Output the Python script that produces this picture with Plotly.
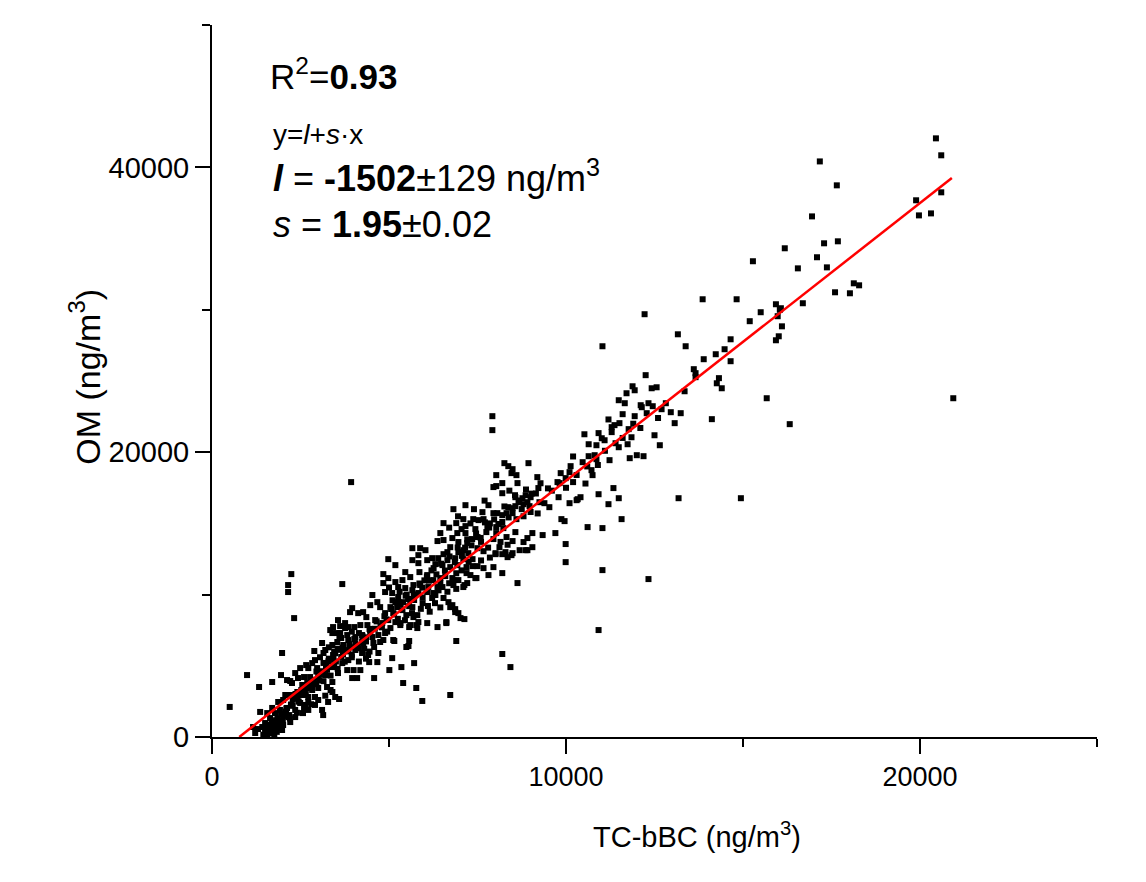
import plotly.graph_objects as go

# ---- data (TC-bBC vs OM, ng/m3) ----
tc_bbc_high = [
    20450, 20600, 17170, 17650, 19890, 20600, 19970, 20310, 16950, 16180,
    17290, 17680, 17090, 16550, 17370, 18130, 18280, 17600, 18020, 16690,
    16070, 16100, 20940, 16320, 15280, 13860, 14820, 15930, 16040, 15980,
    16010, 15930, 15500, 15190, 14650, 14480, 14230, 13890, 14650, 13160,
    13380, 13610, 12220, 11030, 13660, 13660, 14320, 14260, 14400, 15670,
    14120, 13350, 12250, 11880, 11940, 11710, 12420, 12560, 11490, 11660,
    12110, 12140, 12330, 12450, 12820, 12700, 12960, 13240, 13070, 12280,
    11940, 11600, 12500, 12650, 12190, 12000, 11800, 11740, 11850, 11770,
    11510, 11370, 11290, 10920, 11010, 11090, 10860, 10640, 10520, 10640,
    10810, 10860, 11230, 11400, 11490, 10470, 10130, 10720, 10750, 9990,
    9850, 11340, 10920, 10410, 11490, 13180, 14940, 11200, 11290,
    9600, 10000, 10200, 10550, 10300, 10600, 10900, 10100, 11100, 11600,
    11200, 11900, 12100, 12600, 10200,
]
om_high = [
    42040, 40850, 40420, 38740, 37690, 38250, 36630, 36770, 36560, 34320,
    34670, 34810, 33690, 32910, 32980, 31860, 31720, 31230, 31160, 30460,
    30110, 28840, 23790, 21970, 33410, 30740, 30740, 30390, 30000, 29550,
    28140, 27860, 29830, 29200, 27930, 27230, 26880, 26530, 26390, 28280,
    27440, 25830, 29690, 27440, 25550, 25270, 25200, 24840, 24490, 23790,
    22320, 24280, 25410, 24630, 24350, 24140, 24490, 24560, 23650, 23440,
    23300, 23160, 23440, 23230, 23440, 23020, 22810, 22740, 22040, 22740,
    22530, 22670, 21190, 20490, 19720, 19790, 19580, 20560, 21050, 21620,
    22040, 21900, 21410, 21340, 20980, 20840, 20490, 20560, 21260, 19720,
    19790, 19510, 19440, 20630, 20350, 19300, 19020, 18740, 18390, 18180,
    18530, 17480, 17050, 16840, 16770, 16770, 16770, 16350, 21760,
    17300, 17500, 17900, 17800, 18400, 19000, 19100, 18600, 20100, 21000,
    22300, 22000, 21700, 22400, 19700,
]

tc_bbc_mid = [
    8260, 8370, 8490, 8600, 8630, 8940, 9190, 9220, 8200, 8200,
    8570, 8860, 9000, 8800, 8970, 8370, 8570, 9250, 9390, 9530,
    9790, 9820, 10100, 10330, 9760, 7920, 7920, 12330, 11030, 10920,
    6730, 8200, 8430, 6900, 6620, 7130, 6960, 6870, 6790, 6540,
    8630, 8200, 7470, 7190, 7360, 6820, 7130, 6960, 6510, 9990,
    9990, 9700, 10610, 11030, 11570, 10300, 9870, 9960, 9340, 9050,
    8910, 9050, 8860, 8690, 8460, 8350, 8200, 8010, 7670, 8490,
    8030, 7950, 8030, 8460, 8770, 8910, 8660, 8490, 8320, 8200,
    8060, 7810, 7950, 7670, 7530, 7380, 7640, 7160, 6820, 7100,
    6900, 6540, 7160, 7440, 7500, 7750, 7780, 8030, 8030, 8230,
    8320, 8490, 8800, 8570, 8120, 8010, 8290, 8490, 8910, 6450,
    6370, 6540, 6790, 6930, 7160, 6960, 7210, 6730, 6650, 6960,
    7100, 7240, 7500, 7360, 7500, 7100, 6870, 6650, 6540, 6390,
    6220, 6080, 6310, 6510, 6730, 6930, 7190, 7210, 6790, 6590,
    6250, 6080, 5860, 5830, 5660, 5880, 6030, 5660, 5830, 5460,
    5600, 5380, 5180, 5260, 5460, 5690, 5880, 6110, 6310, 6220,
    4980, 5180, 4840, 4980, 4840, 4890, 5090, 5260, 5180, 5400,
    5600, 5660, 5380, 5490, 5690, 5770, 5800, 5600, 6680, 6870,
    7020, 6620, 6370, 4470, 4530, 4670, 4750, 5040, 4890, 5120,
    4980, 5180, 5320, 4810, 4610, 4360, 4270, 4130, 3960, 4390,
    4190, 4020, 3850, 3760, 3620, 3560, 3420, 3400, 3620, 3820,
    4050, 4240, 4470, 4700, 4890, 5120, 5550, 4560, 4270, 3710,
    3540, 3900, 3930,
    5250, 5450, 5650, 5900, 6100, 6300, 6450, 5950, 6150, 5700,
    5950, 6400, 6650, 6900, 6700, 6450, 6900, 7050, 5500, 5300,
    6000, 6200, 5100, 5000,
    7250, 7600, 7850, 7800, 8150, 8350, 7950, 7600, 7350, 7050,
    7300, 7850, 8200, 8600, 8800, 9000, 8750, 9200, 9150, 8400,
    7700, 7400, 6950, 6700, 7150,
    4650, 4760, 4870, 4930, 5060, 5140, 5270, 5330, 5470, 5540,
    5660, 5730, 5860, 5940, 6070, 6130, 6260, 6340, 6470, 6580,
    6710, 6860, 6940, 7060, 7210, 7330, 7460, 7590, 7710, 7830,
    7970, 8090, 8260, 8380, 8560, 8680, 8870, 9030, 9280, 9490,
]
om_mid = [
    19230, 19020, 18810, 18390, 17830, 19230, 18250, 17480, 17830, 17120,
    16840, 16980, 16840, 16350, 16210, 16140, 16210, 16490, 16420, 16140,
    16840, 17830, 16420, 16700, 17900, 22530, 21550, 11090, 11720, 7510,
    2950, 5830, 4910, 6740, 8070, 8280, 8700, 8980, 9260, 9760,
    10810, 11510, 11160, 11510, 12000, 10670, 10670, 11020, 10530, 12280,
    13550, 14320, 14740, 14670, 15300, 16630, 15300, 15160, 14180, 14320,
    13970, 13330, 13120, 13120, 12770, 12630, 12840, 12840, 13050, 16070,
    17620, 17550, 18390, 18530, 16770, 16490, 16490, 15720, 15720, 15580,
    15720, 16280, 15720, 15300, 15230, 15300, 15790, 16280, 16000, 15300,
    15020, 15020, 14810, 14600, 14040, 14390, 14740, 14740, 14320, 14670,
    14040, 13760, 13690, 14390, 13330, 12910, 12980, 12910, 13120, 14320,
    13760, 13830, 13970, 14320, 14320, 13690, 13620, 13330, 12980, 12980,
    13120, 12910, 13260, 12490, 12000, 12490, 12560, 12420, 12840, 12560,
    12560, 12420, 12140, 12070, 11930, 12070, 11930, 10810, 11160, 11300,
    11020, 11370, 11580, 12210, 12420, 13260, 13120, 13260, 12770, 11580,
    11230, 11020, 10880, 10530, 10460, 10670, 10670, 10530, 9970, 9760,
    12490, 12070, 11440, 11160, 10810, 10180, 10110, 9830, 9470, 9470,
    9620, 9120, 8910, 8560, 8420, 7860, 7650, 7860, 9470, 8770,
    8350, 8000, 7720, 9260, 9970, 9470, 9120, 9120, 8700, 8700,
    8210, 8070, 8000, 8000, 8210, 8420, 8770, 8700, 9050, 7860,
    7860, 7720, 7720, 8000, 7790, 8210, 7720, 7300, 7300, 7160,
    7020, 7160, 7300, 7160, 7300, 6810, 6390, 6600, 6600, 6460,
    6670, 8770, 17900,
    8300, 8200, 8700, 9000, 9200, 9400, 9100, 9400, 8800, 9900,
    9800, 10300, 10200, 10400, 10800, 10800, 11500, 11700, 10000, 10200,
    11000, 11700, 9600, 10500,
    12300, 12400, 12600, 13300, 13700, 13500, 13900, 13700, 13900, 14600,
    15000, 15000, 15100, 15300, 15500, 15800, 16000, 15700, 17100, 17300,
    16600, 16000, 15500, 14700, 13300,
    8120, 7780, 8480, 8260, 8990, 8610, 9480, 9320, 9920, 9690,
    10310, 10020, 10780, 10490, 11270, 10980, 11860, 11420, 12170, 11690,
    12680, 12290, 13310, 12720, 13880, 13460, 14290, 13980, 15070, 14710,
    15280, 14960, 16190, 15420, 16980, 16610, 17380, 17090, 17820, 17460,
]

tc_bbc_low = [
    500, 990, 1330, 1360, 1700, 1980, 1950, 2210, 2240, 2150,
    2150, 2320, 3680, 2120, 3110, 2890, 3200, 3400, 3420, 2660,
    2830, 2970, 2350, 2430, 2260, 2550, 2410, 2210, 2010, 1870,
    1920, 2120, 1780, 1640, 1500, 1420, 1300, 1580, 1730, 1840,
    1980, 2150, 2350, 2490, 2720, 2910, 3110, 3140, 2910, 3280,
    3480, 3590, 3400, 3250, 3000, 2830, 2690, 2600, 2770, 3000,
    3200, 3400, 2910, 3400, 3560, 3820, 3960, 3680, 3850, 4000,
    4190, 4100, 4580, 4440, 4670, 4240, 4410, 4700, 4050, 3850,
    3650, 3540, 3340, 4470, 4530, 4750, 4240, 4580, 3760, 2720,
    2490, 2360, 2070, 1700, 1560, 1500, 1730, 1980, 2010, 2210,
    2350, 2570, 2570, 2630, 2720, 2720, 2830, 1160, 1220, 6730,
    5940, 5770, 5400, 5710, 5350, 5010, 5090, 5490, 5570, 5150,
    4840, 5040, 5320, 5570, 5830, 6080, 5800, 5570, 5230, 5710,
    5830, 6080, 6250, 6370, 6450, 6820, 7100, 7300, 7440, 7670,
    7810, 7950,
    1450, 1560, 1640, 1760, 1830, 1610, 1690, 1810, 1920, 2030,
    2090, 2230, 2280, 2420, 2480, 2620, 2680, 2810, 2880, 3030,
    3090, 3220, 3290, 3430, 3480, 3620, 3690, 3810, 3880, 4020,
    3050, 3150, 3300, 3450, 3550, 3700, 3750, 3900, 4100, 4300,
    4450, 3300, 3500, 3950, 4150, 4350, 3600, 3950, 4150, 4350,
    4600, 4800, 4950, 3150, 2950,
    1550, 1650, 1800, 1900, 2000, 2200, 2400, 2600, 2800, 3000,
    3200, 3350, 1700, 1850, 2050,
    1510, 1620, 1720, 1880, 1950, 2100, 2180, 2280, 2330, 2450,
    2520, 2650, 2750, 2850, 2950, 3050, 3150, 3250, 3350, 3450,
    3550, 3650, 3750, 3850, 3950, 4050, 4150, 4250, 4350, 4450,
]
om_low = [
    2110, 4350, 3510, 1760, 3860, 5900, 4350, 3930, 11440, 10670,
    10180, 8350, 10740, 4000, 6600, 6040, 6110, 6460, 5760, 5050,
    5190, 4840, 4490, 4140, 3790, 3650, 3160, 2950, 2600, 2460,
    1900, 2040, 1680, 1330, 980, 700, 560, 490, 280, 630,
    1190, 1400, 1900, 2390, 2460, 2810, 1900, 1540, 2250, 2460,
    2810, 2670, 3160, 3510, 3440, 3300, 3790, 4210, 4210, 4210,
    4350, 3860, 5400, 4910, 4490, 4700, 4140, 5190, 5400, 4700,
    4700, 4140, 4140, 5260, 5260, 5900, 5760, 5900, 6110, 6810,
    6950, 7300, 7510, 7510, 7020, 6670, 6670, 6320, 7650, 4840,
    4840, 3020, 2950, 2040, 1680, 350, 840, 490, 840, 1050,
    1400, 1680, 2950, 2250, 1900, 2810, 3790, 700, 280, 9120,
    2530, 3440, 3790, 5190, 4910, 4700, 5540, 6320, 6740, 6740,
    6810, 7650, 7860, 7720, 8070, 8000, 8560, 9190, 9120, 9620,
    10110, 10180, 10110, 10530, 11160, 11020, 10530, 11370, 11160, 11860,
    11370, 11930,
    160, 110, 260, 140, 360, 690, 1010, 1180, 820, 1480,
    1790, 2280, 2610, 2690, 3020, 3180, 3420, 3580, 3920, 3980,
    4620, 4980, 5320, 5480, 5880, 6120, 6280, 6090, 6520, 6880,
    5600, 5900, 6300, 6000, 6200, 5800, 6100, 6300, 6400, 6200,
    6000, 5500, 5300, 5600, 5300, 5500, 7000, 7400, 7300, 7000,
    7600, 7700, 7400, 5200, 4600,
    500, 300, 450, 700, 1000, 1300, 1700, 2000, 2300, 2600,
    2900, 3300, 1100, 1300, 1650,
    620, 860, 430, 1020, 1580, 2010, 1540, 2190, 2810, 2480,
    3290, 3010, 3480, 4020, 3710, 4380, 3920, 4720, 4310, 5180,
    4790, 5620, 5290, 6010, 5780, 6590, 6230, 7080, 6710, 7590,
]

tc_bbc = tc_bbc_high + tc_bbc_mid + tc_bbc_low
om = om_high + om_mid + om_low

# linear fit reported on the chart
fit_intercept = -1502
fit_slope = 1.95
fit_x = [770, 20900]
fit_y = [fit_intercept + fit_slope * v for v in fit_x]

x_ticks = [0, 10000, 20000]
y_ticks = [0, 20000, 40000]

FONT = "Liberation Sans, Arial, sans-serif"

fig = go.Figure()
fig.add_trace(go.Scatter(
    x=tc_bbc, y=om, mode="markers",
    marker=dict(symbol="square", size=6, color="black", line=dict(width=0)),
    hoverinfo="skip", showlegend=False,
))
fig.add_trace(go.Scatter(
    x=fit_x, y=fit_y, mode="lines",
    line=dict(color="#ff0000", width=2.5), showlegend=False,
))

# page body adds an 8 px margin, so the figure is 8 px smaller on each axis
fig.update_layout(
    width=1138, height=874,
    margin=dict(l=204, r=49, t=17, b=145),
    paper_bgcolor="white", plot_bgcolor="white",
    font=dict(family=FONT, color="black"),
    showlegend=False,
    xaxis=dict(
        range=[0, 25000], showgrid=False, zeroline=False, automargin=False,
        showline=True, linecolor="black", linewidth=2,
        ticks="outside", ticklen=15, tickwidth=2, tickcolor="black",
        tickvals=x_ticks, ticktext=[str(v) for v in x_ticks],
        minor=dict(dtick=5000, tick0=0, ticks="outside", ticklen=8,
                   tickwidth=2, tickcolor="black", showgrid=False),
        tickfont=dict(family=FONT, size=27),
    ),
    yaxis=dict(
        range=[0, 50000], showgrid=False, zeroline=False, automargin=False,
        showline=True, linecolor="black", linewidth=2,
        ticks="outside", ticklen=15, tickwidth=2, tickcolor="black",
        tickvals=y_ticks, ticktext=[str(v) for v in y_ticks],
        minor=dict(dtick=10000, tick0=0, ticks="outside", ticklen=8,
                   tickwidth=2, tickcolor="black", showgrid=False),
        tickfont=dict(family=FONT, size=29),
    ),
)

# axis titles
fig.add_annotation(xref="paper", yref="paper", x=0.548, y=-0.1376,
                   xanchor="center", yanchor="middle", showarrow=False,
                   text="TC-bBC (ng/m<sup>3</sup>)",
                   font=dict(family=FONT, size=29))
fig.add_annotation(xref="paper", yref="paper", x=-0.1435, y=0.506,
                   xanchor="center", yanchor="middle", showarrow=False,
                   textangle=-90, text="OM (ng/m<sup>3</sup>)",
                   font=dict(family=FONT, size=34))

ann_x = 0.063
fig.add_annotation(xref="paper", yref="paper", x=ann_x, y=0.931,
                   xanchor="left", yanchor="middle", showarrow=False,
                   text="R<sup>2</sup>=<b>0.93</b>",
                   font=dict(family=FONT, size=35))
fig.add_annotation(xref="paper", yref="paper", x=ann_x + 0.004, y=0.846,
                   xanchor="left", yanchor="middle", showarrow=False,
                   text="y=<i>l</i>+<i>s</i>·x",
                   font=dict(family=FONT, size=28))
fig.add_annotation(xref="paper", yref="paper", x=ann_x + 0.004, y=0.788,
                   xanchor="left", yanchor="middle", showarrow=False,
                   text="<b><i>l</i></b> = <b>-1502</b>±129 ng/m<sup>3</sup>",
                   font=dict(family=FONT, size=36))
fig.add_annotation(xref="paper", yref="paper", x=ann_x + 0.004, y=0.72,
                   xanchor="left", yanchor="middle", showarrow=False,
                   text="<i>s</i> = <b>1.95</b>±0.02",
                   font=dict(family=FONT, size=36))

fig.write_html("out.html")
